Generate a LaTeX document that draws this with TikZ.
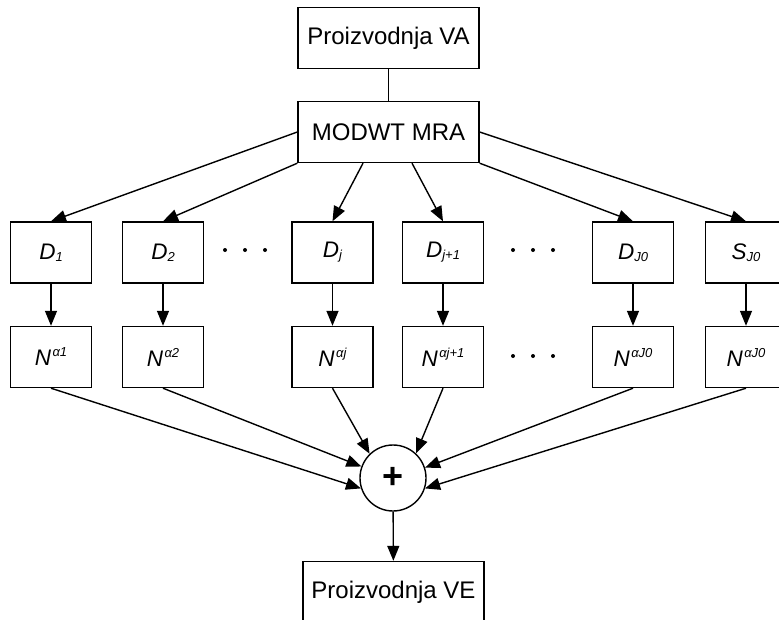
\documentclass[tikz,border=0pt]{standalone}
\usepackage{fontspec}
\setmainfont{Liberation Sans}
\usetikzlibrary{arrows.meta}
\newcommand{\sbs}[1]{\raisebox{-2pt}{\fontsize{13}{14}\selectfont #1}}
\newcommand{\sps}[1]{\kern1.5pt\raisebox{9pt}{\fontsize{13}{14}\selectfont #1}}
\begin{document}
\begin{tikzpicture}[x=1pt,y=-1pt,
 box/.style={draw,line width=1.4pt,minimum width=81pt,minimum height=61pt,inner sep=0pt,font=\fontsize{22.5}{26}\selectfont\itshape},
 wide/.style={draw,line width=1.4pt,minimum width=181pt,minimum height=61pt,inner sep=0pt,font=\fontsize{24}{28}\selectfont},
 arr/.style={line width=1.4pt,-{Triangle[length=15pt,width=12pt]}},
 ln/.style={line width=1.4pt}]
\useasboundingbox (0,0) rectangle (779,619);
\node[wide] (va) at (388.5,38) {Proizvodnja VA};
\node[wide] (mra) at (388.5,132) {MODWT MRA};
\node[box] (d1) at (51,252.5) {D\sbs{1}};
\node[box] (d2) at (163,252.5) {D\sbs{2}};
\node[box] (dj) at (332.5,252.5) {D\sbs{j}};
\node[box] (dj1) at (443,252.5) {D\sbs{j+1}};
\node[box] (dJ) at (633,252.5) {D\sbs{J0}};
\node[box] (sJ) at (746,252.5) {S\sbs{J0}};
\node[box] (n1) at (51,357) {N\sps{α1}};
\node[box] (n2) at (163,357) {N\sps{α2}};
\node[box] (nj) at (332.5,357) {N\sps{αj}};
\node[box] (nj1) at (443,357) {N\sps{αj+1}};
\node[box] (nJ) at (633,357) {N\sps{αJ0}};
\node[box] (sN) at (746,357) {N\sps{αJ0}};
\node[circle,draw,line width=1.4pt,minimum size=66pt,inner sep=0pt,font=\fontsize{36}{36}\selectfont\bfseries] (plus) at (393,478) {+};
\node[wide] (ve) at (393.5,592) {Proizvodnja VE};
\draw[ln] (va) -- (mra);
\draw[arr] (mra.west) -- (d1.north);
\draw[arr] (mra.south west) -- (d2.north);
\draw[arr] ([xshift=-25.5pt]mra.south) -- (dj.north);
\draw[arr] ([xshift=23.5pt]mra.south) -- (dj1.north);
\draw[arr] (mra.south east) -- (dJ.north);
\draw[arr] (mra.east) -- (sJ.north);
\foreach \a/\b in {d1/n1,d2/n2,dj/nj,dj1/nj1,dJ/nJ,sJ/sN} \draw[arr] (\a) -- (\b);
\draw[arr] (n1.south) -- (plus.198);
\draw[arr] (n2.south) -- (plus.160);
\draw[arr] (nj.south) -- (plus.134);
\draw[arr] (nj1.south) -- (plus.47);
\draw[arr] (nJ.south) -- (plus.18);
\draw[arr] (sN.south) -- (plus.342);
\draw[arr] (plus) -- (ve);
\foreach \x in {225,245,265} \fill (\x,250) circle (2pt);
\foreach \x in {513,533,553} {\fill (\x,250) circle (2pt); \fill (\x,356) circle (2pt);}
\end{tikzpicture}
\end{document}
